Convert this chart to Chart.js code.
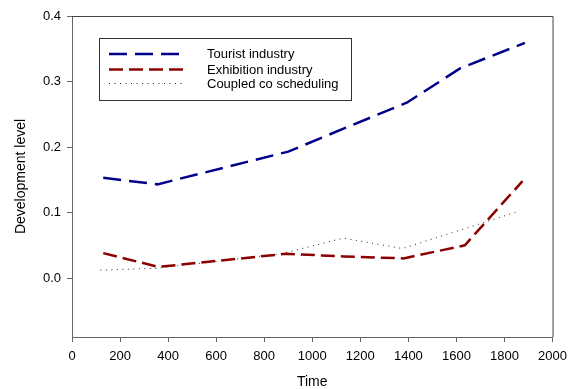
<!DOCTYPE html>
<html>
<head>
<meta charset="utf-8">
<script src="https://cdn.jsdelivr.net/npm/chart.js@4.4.0/dist/chart.umd.min.js"></script>
<style>
  html, body { margin: 0; padding: 0; background: #fff; }
  #wrap { width: 574px; height: 389px; }
</style>
</head>
<body>
<div id="wrap"><canvas id="chart" width="574" height="389"></canvas></div>
<script>
// values
const tourTime = [130, 355, 900, 1130, 1395, 1615, 1885];
const tourist = [0.153, 0.143, 0.193, 0.228, 0.268, 0.320, 0.359];

const exhibTime = [130, 360, 890, 1130, 1380, 1635, 1875];
const exhibition = [0.038, 0.017, 0.037, 0.033, 0.030, 0.050, 0.148];

const coupledTime = [118, 355, 870, 1130, 1375, 1640, 1860];
const coupled = [0.012, 0.015, 0.037, 0.061, 0.045, 0.076, 0.102];

const xTicks = [0, 200, 400, 600, 800, 1000, 1200, 1400, 1600, 1800, 2000];
const yTicks = [0.0, 0.1, 0.2, 0.3, 0.4];

const FONT = 'Liberation Sans, Arial, sans-serif';

function points(xs, ys) {
  return xs.map((x, i) => ({ x: x, y: ys[i] }));
}

// plot frame (top and right sides of the box)
const frame = {
  id: 'frame',
  afterDraw(chart) {
    const { ctx, chartArea: a } = chart;
    ctx.save();
    ctx.strokeStyle = '#444';
    ctx.lineWidth = 1;
    ctx.beginPath();
    ctx.moveTo(a.left, a.top + 0.5);
    ctx.lineTo(a.right + 0.5, a.top + 0.5);
    ctx.lineTo(a.right + 0.5, a.bottom);
    ctx.stroke();
    ctx.restore();
  }
};

// boxed legend inside the plot
const boxLegend = {
  id: 'boxLegend',
  afterDraw(chart) {
    const ctx = chart.ctx;
    const a = chart.chartArea;
    const left = a.left + 27, top = a.top + 22, w = 252, h = 62;
    ctx.save();
    ctx.fillStyle = '#fff';
    ctx.fillRect(left, top, w, h);
    ctx.strokeStyle = '#333';
    ctx.lineWidth = 1;
    ctx.strokeRect(left + 0.5, top + 0.5, w, h);
    const rows = [16, 31.5, 45.5];
    chart.data.datasets.forEach((ds, i) => {
      const y = top + rows[i];
      ctx.strokeStyle = ds.borderColor;
      ctx.lineWidth = ds.borderWidth;
      ctx.setLineDash(ds.borderDash || []);
      ctx.beginPath();
      ctx.moveTo(left + 10, y);
      ctx.lineTo(left + 84, y);
      ctx.stroke();
      ctx.setLineDash([]);
      ctx.fillStyle = '#000';
      ctx.font = '13px ' + FONT;
      ctx.textBaseline = 'middle';
      ctx.fillText(ds.label, left + 108, y + 0.5);
    });
    ctx.restore();
  }
};

new Chart(document.getElementById('chart'), {
  type: 'line',
  data: {
    datasets: [
      {
        label: 'Tourist industry',
        data: points(tourTime, tourist),
        borderColor: '#00008b',
        borderWidth: 2.5,
        borderDash: [18, 8],
        pointRadius: 0,
        tension: 0
      },
      {
        label: 'Exhibition industry',
        data: points(exhibTime, exhibition),
        borderColor: '#8b0000',
        borderWidth: 2.5,
        borderDash: [14, 6],
        pointRadius: 0,
        tension: 0
      },
      {
        label: 'Coupled co scheduling',
        data: points(coupledTime, coupled),
        borderColor: '#222',
        borderWidth: 1,
        borderDash: [1, 4.5],
        pointRadius: 0,
        tension: 0
      }
    ]
  },
  options: {
    responsive: false,
    animation: false,
    layout: { padding: { top: 16, right: 16, left: 0, bottom: 0 } },
    plugins: {
      legend: { display: false },
      tooltip: { enabled: false }
    },
    scales: {
      x: {
        type: 'linear',
        min: 0,
        max: 2000,
        afterBuildTicks: axis => { axis.ticks = xTicks.map(v => ({ value: v })); },
        afterFit: scale => { scale.height = 52; },
        grid: { drawOnChartArea: false, drawTicks: true, tickLength: 5, color: '#666' },
        border: { display: true, color: '#666' },
        ticks: {
          color: '#000',
          padding: 7,
          maxRotation: 0,
          font: { family: FONT, size: 13 },
          callback: v => String(v)
        },
        title: {
          display: true,
          text: 'Time',
          color: '#000',
          padding: { top: 0, bottom: -2 },
          font: { family: FONT, size: 14 }
        }
      },
      y: {
        type: 'linear',
        min: -0.09,
        max: 0.4,
        afterBuildTicks: axis => { axis.ticks = yTicks.map(v => ({ value: v })); },
        afterFit: scale => { scale.width = 72; },
        grid: { drawOnChartArea: false, drawTicks: true, tickLength: 5, color: '#666' },
        border: { display: true, color: '#666' },
        ticks: {
          color: '#000',
          padding: 6,
          font: { family: FONT, size: 13 },
          callback: v => Number(v).toFixed(1)
        },
        title: {
          display: true,
          text: 'Development level',
          color: '#000',
          padding: { top: 13, bottom: 0 },
          font: { family: FONT, size: 14 }
        }
      }
    }
  },
  plugins: [frame, boxLegend]
});
</script>
</body>
</html>
